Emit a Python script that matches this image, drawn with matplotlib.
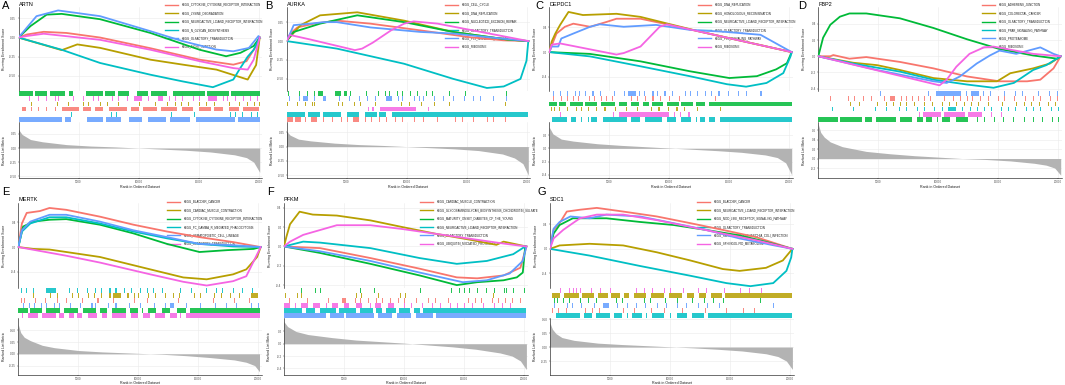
import matplotlib
matplotlib.use("Agg")
import matplotlib.pyplot as plt
from matplotlib.lines import Line2D

plt.rcParams['font.family'] = ['Liberation Sans', 'DejaVu Sans']

# ggplot hue palette, legend order
colors = ['#F8766D', '#B79F00', '#00BA38', '#00BFC4', '#619CFF', '#F564E3']

# ---------------- A ----------------
A_title = 'ARTN'
A_names = ['KEGG_CYTOKINE_CYTOKINE_RECEPTOR_INTERACTION', 'KEGG_LYSINE_DEGRADATION',
           'KEGG_NEUROACTIVE_LIGAND_RECEPTOR_INTERACTION', 'KEGG_N_GLYCAN_BIOSYNTHESIS',
           'KEGG_OLFACTORY_TRANSDUCTION', 'KEGG_TIGHT_JUNCTION']
A_es = [
    [(0, 0), (0.7, 0.04), (2.1, 0.075), (4, 0.06), (6.8, 0), (11, -0.14), (15.1, -0.29), (17.9, -0.355), (19, -0.31), (19.8, -0.11), (20.1, 0)],
    [(0, 0), (3.6, -0.165), (4.9, -0.09), (6.8, -0.135), (11, -0.29), (13.7, -0.355), (16.5, -0.42), (19.1, -0.55), (19.8, -0.36), (20.1, 0)],
    [(0, 0), (1, 0.15), (2.35, 0.3), (3.6, 0.31), (6.8, 0.24), (11, 0.06), (15.1, -0.16), (17.3, -0.245), (18.5, -0.2), (19.6, -0.11), (20.1, 0)],
    [(0, 0), (3.6, -0.16), (6.8, -0.333), (11, -0.487), (13.7, -0.575), (16.2, -0.65), (17.9, -0.55), (18.4, -0.42), (19.1, -0.25), (19.6, -0.16), (20.1, 0)],
    [(0, 0), (1.5, 0.28), (3.3, 0.355), (6.8, 0.28), (11, 0.083), (13.7, -0.048), (16.5, -0.158), (17.9, -0.18), (19.2, -0.136), (20, 0.02), (20.1, 0)],
    [(0, 0), (0.7, 0.02), (2.1, 0.05), (6.8, -0.03), (11, -0.16), (15.1, -0.31), (17.9, -0.4), (19.1, -0.42), (19.6, -0.29), (20.1, 0)],
]
A_rug = [
    (2, [(0, 1.2), (1.4, 2.4), (2.6, 3.9), (4.2, 4.5), (5.6, 7.0), (7.2, 8.0), (8.3, 9.2), (9.9, 10.8), (11, 12.4), (12.9, 15.5), (15.7, 17.5), (17.7, 20.1)]),
    (5, [0.9, 1.6, 2.3, 3.0, 3.3, 4.5, 5.4, 6.2, 6.6, 7.8, 8.3, 9.0, (9.6, 10.3), 10.8, (11.6, 12.0), 12.5, 13.0, 13.6, 14.5, 15.0, (15.8, 16.5), 17.0, 17.4, 18.0, 18.7, 19.3, 19.9]),
    (1, [1.0, 3.2, 4.1, 5.4, 5.8, 6.8, 7.4, 8.3, 10.0, 11.4, 12.4, 13.0, 13.5, 14.1, 15.0, 15.6, 16.3, 17.5, 18.4, 19.0, 19.6, 20.0]),
    (0, [(0.3, 0.6), 1.0, 1.6, 2.3, 3.0, (3.6, 5.0), (5.4, 6.0), (6.4, 7.0), (7.5, 9.0), (9.4, 10.0), (10.4, 11.5), (11.9, 13.2), (13.6, 14.5), (15.0, 16.0), (16.3, 17.0), (17.5, 18.4), (18.7, 20.0)]),
    (3, [4.4, 7.7, 8.1, 12.7, 14.6, 17.6, 18.0, 18.6, 19.4, 19.9]),
    (4, [(0, 3.6), (3.9, 4.4), (5.7, 7.0), (7.3, 8.5), (9.2, 10.3), (10.8, 12.3), (12.6, 14.3), (14.8, 18.0), (18.3, 20.1)]),
]
A_metric = [(0, 0.33), (0.3, 0.24), (1, 0.15), (2, 0.11), (4, 0.06), (6, 0.035), (8, 0.02), (10, 0.0), (12, -0.02), (14, -0.04), (16, -0.07), (18, -0.12), (19, -0.17), (19.6, -0.25), (20.1, -0.43)]
A_es_ticks = [0.25, 0.0, -0.25, -0.5]
A_es_lim = (-0.70, 0.40)
A_rank_ticks = [0.25, 0.0, -0.25, -0.5]
A_rank_lim = (-0.53, 0.46)

# ---------------- B ----------------
B_title = 'AURKA'
B_names = ['KEGG_CELL_CYCLE', 'KEGG_DNA_REPLICATION', 'KEGG_NUCLEOTIDE_EXCISION_REPAIR',
           'KEGG_OLFACTORY_TRANSDUCTION', 'KEGG_P53_SIGNALING_PATHWAY', 'KEGG_RIBOSOME']
B_es = [
    [(0, 0), (0.33, 0.1), (0.9, 0.18), (2.3, 0.23), (4.2, 0.27), (7, 0.23), (11.2, 0.14), (15.3, 0.05), (18.1, 0.01), (20.15, 0)],
    [(0, 0), (1.17, 0.21), (2.8, 0.34), (5.9, 0.38), (9.8, 0.27), (13.9, 0.12), (18.4, 0.02), (20.15, 0)],
    [(0, 0), (0.6, 0.12), (1.4, 0.16), (2.8, 0.23), (4.2, 0.28), (5.9, 0.34), (9.8, 0.25), (13.9, 0.12), (18.4, 0.02), (20.15, 0)],
    [(0, 0), (4.2, -0.1), (9.8, -0.3), (13.9, -0.5), (16.7, -0.62), (18.1, -0.6), (19.5, -0.5), (20, -0.26), (20.15, 0)],
    [(0, 0), (0.3, 0.1), (0.6, 0.21), (2, 0.23), (3.1, 0.25), (4.2, 0.25), (7, 0.18), (11.2, 0.12), (13.9, 0.1), (18.1, 0.03), (20.15, 0)],
    [(0, 0), (0.3, 0.08), (2, 0.02), (5.7, -0.12), (6.3, -0.1), (7.2, -0.02), (8.7, 0.14), (9.8, 0.23), (10.6, 0.26), (12.6, 0.23), (20.15, 0)],
]
B_rug = [
    (2, [0.1, 1.0, 1.7, 2.3, (2.6, 3.0), (4.0, 4.5), (4.8, 5.0), 5.3, 6.6, 7.6, 8.2, 8.5, 9.2, 9.6, 10.3, 10.9, 11.6, 12.1, 13.5, 14.9, 18.3]),
    (4, [0.2, 1.0, (1.4, 1.8), 2.3, (3.0, 3.3), 4.4, 5.2, 6.0, 6.7, 7.4, (8.3, 8.8), 9.3, 9.6, 10.6, 11.0, 11.4, 12.3, 13.0, 13.9, 14.8, 15.5, 16.1, 17.2, 18.3]),
    (1, [0.0, 0.9, 1.5, 2.1, 2.3, 4.3, 4.6, 5.6, 6.1, 7.4, 9.5, 10.2, 11.2, 12.3, 13.5, 18.2]),
    (5, [6.8, (7.1, 7.3), (7.8, 10.8), 11.8]),
    (3, [(0, 1.5), (1.8, 2.8), (3.0, 4.5), (5.0, 6.0), (6.5, 7.5), (7.7, 8.3), (8.8, 20.15)]),
    (0, [(0, 0.5), (0.7, 1.2), 1.5, (2.0, 2.5), 3.0, 3.8, 4.5, 5.0, (5.5, 6.0), 6.5, 7.0, 7.7, 8.3, 9.0, 9.6, 10.6, 11.4, 12.5, 14.0, 14.6, 15.5, 16.7, 17.2, 18.2]),
]
B_metric = [(0, 0.27), (0.3, 0.2), (1, 0.13), (2, 0.1), (4, 0.06), (6, 0.035), (8, 0.02), (10, 0.0), (12, -0.02), (14, -0.04), (16, -0.07), (18, -0.13), (19, -0.2), (19.7, -0.3), (20.15, -0.5)]
B_es_ticks = [0.25, 0.0, -0.25, -0.5]
B_es_lim = (-0.66, 0.45)
B_rank_ticks = [0.25, 0.0, -0.25, -0.5]
B_rank_lim = (-0.55, 0.43)

# ---------------- C ----------------
C_title = 'DEPDC1'
C_names = ['KEGG_DNA_REPLICATION', 'KEGG_HOMOLOGOUS_RECOMBINATION',
           'KEGG_NEUROACTIVE_LIGAND_RECEPTOR_INTERACTION', 'KEGG_OLFACTORY_TRANSDUCTION',
           'KEGG_P53_SIGNALING_PATHWAY', 'KEGG_RIBOSOME']
C_es = [
    [(0, 0), (0.33, 0.17), (0.6, 0.3), (1.3, 0.41), (2, 0.46), (3.4, 0.41), (4.8, 0.49), (5.6, 0.54), (7.6, 0.54), (9.8, 0.45), (20.2, 0)],
    [(0, 0), (0.2, 0.17), (0.5, 0.3), (0.9, 0.44), (1.6, 0.65), (2.8, 0.6), (5.6, 0.62), (7.6, 0.57), (10.3, 0.44), (12.6, 0.33), (20.2, 0)],
    [(0, 0), (3.4, -0.03), (7.6, -0.15), (11.7, -0.31), (15, -0.42), (17.3, -0.39), (18.9, -0.28), (19.8, -0.18), (20.2, 0)],
    [(0, 0), (3.4, -0.07), (7.6, -0.23), (11.7, -0.39), (14.8, -0.52), (16.4, -0.56), (18.1, -0.5), (19.5, -0.34), (20.1, -0.07), (20.2, 0)],
    [(0, 0), (0.2, 0.09), (0.75, 0.09), (1, 0.22), (2, 0.3), (3.4, 0.41), (4.2, 0.45), (6.2, 0.41), (8.9, 0.44), (11.7, 0.36), (14.5, 0.33), (17.6, 0.28), (20.2, 0)],
    [(0, 0), (0.2, 0.12), (0.9, 0.14), (5.6, -0.04), (6.2, -0.016), (7.6, 0.09), (8.4, 0.25), (9.2, 0.41), (9.8, 0.45), (20.2, 0)],
]
C_rug = [
    (4, [0.3, 0.9, 1.5, 2.1, 2.5, 3.0, 3.6, 4.2, 5.4, 6.2, (6.6, 7.2), 7.5, 7.9, 8.6, 9.0, 9.6, 10.2, 11.3, 11.7, 12.3, 13.0, 13.5, 14.1, 14.9, 15.7, 16.4, 17.6]),
    (0, [0.3, 1.0, 1.5, 2.0, 2.4, 3.3, 3.7, 4.3, 4.7, 5.2, 6.8, 7.3, 8.0, 8.6, 9.2, 10.0, 10.8, 13.8]),
    (2, [(0, 0.6), (0.8, 1.4), (1.7, 2.8), (3.0, 4.0), (4.3, 5.5), (5.8, 6.5), (6.8, 7.5), (7.8, 8.3), (8.6, 9.5), (9.8, 10.8), (11.0, 12.0), (12.2, 13.0), (13.3, 20.2)]),
    (1, [0.1, 0.4, 0.8, 1.5, 2.2, 2.6, 3.2, 3.9, 4.6, 5.5, 6.4, 7.3, 8.5, 9.1, 9.9, 10.6, 11.2, 12.3, 14.2]),
    (5, [0.9, 5.3, (5.8, 10.0), 10.4, 10.9, 11.6]),
    (3, [(0.2, 1.5), (1.8, 2.2), 2.6, 3.2, (3.5, 4.0), (4.5, 6.5), (6.8, 7.6), (8.0, 9.4), (9.8, 10.6), (11.0, 11.8), 12.2, (12.6, 13.0), (13.3, 13.8), (14.2, 20.2)]),
]
C_metric = [(0, 0.32), (0.3, 0.22), (1, 0.14), (2, 0.11), (4, 0.07), (6, 0.045), (8, 0.025), (10, 0.005), (12, -0.015), (14, -0.035), (16, -0.06), (18, -0.1), (19, -0.14), (19.7, -0.22), (20.2, -0.4)]
C_es_ticks = [0.4, 0.0, -0.4]
C_es_lim = (-0.63, 0.73)
C_rank_ticks = [0.2, 0.0, -0.2, -0.4]
C_rank_lim = (-0.45, 0.40)

# ---------------- D ----------------
D_title = 'FBP2'
D_names = ['KEGG_ADHERENS_JUNCTION', 'KEGG_COLORECTAL_CANCER', 'KEGG_OLFACTORY_TRANSDUCTION',
           'KEGG_PPAR_SIGNALING_PATHWAY', 'KEGG_PROTEASOME', 'KEGG_RIBOSOME']
D_es = [
    [(0, 0), (1, 0.0), (1.25, 0.015), (2.6, -0.03), (4, -0.01), (6.8, -0.07), (9.6, -0.15), (12.4, -0.25), (15.1, -0.31), (17.4, -0.31), (18.5, -0.29), (19.6, -0.15), (20.2, 0)],
    [(0, 0), (2.9, -0.08), (4.9, -0.11), (6.8, -0.17), (9.6, -0.27), (12.4, -0.31), (14.9, -0.31), (16, -0.21), (17.9, -0.15), (19.3, -0.09), (20.2, 0)],
    [(0, 0), (0.4, 0.23), (1, 0.39), (1.8, 0.49), (2.6, 0.53), (4, 0.53), (6.8, 0.47), (9.6, 0.35), (12.4, 0.21), (15.1, 0.09), (17.9, 0.01), (19.9, -0.03), (20.2, 0)],
    [(0, 0), (2.9, -0.09), (6.8, -0.19), (9.6, -0.29), (12.4, -0.35), (14.6, -0.39), (16.3, -0.33), (17.9, -0.17), (19, -0.11), (20.2, 0)],
    [(0, 0), (4.9, -0.17), (9.6, -0.31), (10.7, -0.33), (11.8, -0.25), (13.2, -0.09), (14.3, 0.01), (15.1, 0.07), (16.5, 0.03), (18.5, 0.11), (19.6, 0.03), (20.2, 0)],
    [(0, 0), (10.1, -0.36), (10.7, -0.29), (11.5, -0.13), (12.6, 0.03), (13.8, 0.11), (14.6, 0.12), (17.9, 0.03), (20.2, 0)],
]
D_rug = [
    (4, [5.1, 9.1, (9.8, 11.9), 12.3, (12.7, 13.4), 13.7, 14.3, 15.5, 16.4, 17.0, 18.3, 19.2, 19.9]),
    (0, [1.0, 2.5, 3.0, 3.7, 4.4, 5.5, (6.0, 6.4), 6.9, 7.3, 7.8, 8.3, 8.8, 9.3, 10.5, 11.2, 11.8, 12.4, 12.8, 13.5, 14.1, 15.0, 15.5, 16.3, 17.2, 17.9, 18.5, 19.3, 19.9]),
    (1, [2.6, 3.4, 4.9, 5.6, 6.2, 6.8, 7.3, 8.0, 8.8, 9.5, 10.3, 10.9, 11.5, 12.1, 12.7, 13.3, 14.1, 15.3, 16.5, 17.1, 17.7, 18.4, 19.1, 19.7]),
    (3, [1.1, 2.9, 4.7, 5.6, 6.7, 7.3, 8.2, 8.8, 9.6, 10.3, (10.8, 11.5), 12.0, 12.6, 13.2, 13.8, 14.4, 15.2, 15.8, 16.4, 17.3, 17.9, 18.5, 19.4, 20.0]),
    (5, [8.4, (8.7, 10.2), (10.5, 12.2), (12.5, 13.6), 14.4, 15.2]),
    (2, [(0, 1.6), (1.8, 3.6), (3.9, 4.5), (4.8, 6.5), (6.8, 7.8), (8.2, 8.7), (9.0, 9.5), 9.9, (10.3, 11.0), (11.5, 12.5), 13.2, 13.8, 14.6, 15.4, 16.2, 17.1, 17.9, 18.6, 19.5, 20.0]),
]
D_metric = [(0, 0.72), (0.2, 0.55), (0.5, 0.45), (1, 0.35), (2, 0.25), (3, 0.2), (4, 0.15), (6, 0.1), (8, 0.06), (10, 0.03), (12, 0.0), (14, -0.02), (16, -0.05), (18, -0.1), (19, -0.14), (19.7, -0.2), (20.2, -0.35)]
D_es_ticks = [0.4, 0.2, 0.0, -0.2, -0.4]
D_es_lim = (-0.43, 0.61)
D_rank_ticks = [0.6, 0.4, 0.2, 0.0, -0.2]
D_rank_lim = (-0.41, 0.77)

# ---------------- E ----------------
E_title = 'MERTK'
E_names = ['KEGG_BLADDER_CANCER', 'KEGG_CARDIAC_MUSCLE_CONTRACTION',
           'KEGG_CYTOKINE_CYTOKINE_RECEPTOR_INTERACTION', 'KEGG_FC_GAMMA_R_MEDIATED_PHAGOCYTOSIS',
           'KEGG_HEMATOPOIETIC_CELL_LINEAGE', 'KEGG_OLFACTORY_TRANSDUCTION']
E_es = [
    [(0, 0), (0.3, 0.38), (0.7, 0.55), (1.8, 0.58), (2.6, 0.63), (4, 0.6), (6.8, 0.49), (9.6, 0.36), (12.4, 0.25), (15.1, 0.16), (17.9, 0.08), (20.2, 0)],
    [(0, 0), (1.25, -0.03), (2.6, -0.04), (6.8, -0.16), (11, -0.36), (13.75, -0.49), (15.7, -0.52), (17.9, -0.44), (19, -0.36), (19.9, -0.16), (20.2, 0)],
    [(0, 0), (0.4, 0.33), (1.25, 0.41), (2.6, 0.44), (4, 0.45), (6.8, 0.36), (9.6, 0.22), (12.4, 0.05), (15.1, -0.08), (17.4, -0.05), (18.5, -0.04), (19.6, -0.03), (20.2, 0)],
    [(0, 0), (0.3, 0.25), (1, 0.38), (2.6, 0.48), (4, 0.48), (6.8, 0.38), (9.6, 0.25), (12.4, 0.14), (15.1, 0.05), (17.9, 0.01), (20.2, 0)],
    [(0, 0), (0.3, 0.27), (1, 0.41), (2.6, 0.52), (4, 0.52), (6.8, 0.41), (9.6, 0.27), (12.4, 0.16), (15.1, 0.05), (17.9, 0.03), (20.2, 0)],
    [(0, 0), (4, -0.14), (6.8, -0.25), (11, -0.44), (13.75, -0.56), (15.7, -0.62), (17.9, -0.55), (19, -0.47), (20.2, 0)],
]
E_rug = [
    (3, [0.2, 0.6, 1.2, (2.3, 3.1), 4.2, 4.9, 5.7, 6.4, 6.9, 7.6, 8.1, 8.8, 9.4, 10.1, 10.7, 11.2, 12.0, 13.5, 14.4, 15.6, 16.5, 17.0, 17.9, 18.6, 19.5]),
    (1, [1.2, 2.6, 3.2, 4.5, 5.0, 5.8, 6.3, 6.9, 7.6, (7.9, 8.6), 9.1, 9.6, 10.0, 10.8, 11.4, 12.2, 12.9, 13.4, 14.6, 15.1, 16.3, 16.9, 17.6, 18.4, (19.4, 20.0)]),
    (0, [0.2, 0.5, 1.4, 2.2, 3.2, 4.0, 5.3, 6.6, 7.9, 9.6, 10.7, 13.3, 16.2, 18.0, 19.2]),
    (4, [0.4, 0.9, 1.3, 1.9, 2.3, 3.0, 3.4, 4.3, 5.1, 6.1, 6.4, 7.5, 8.1, 9.2, 10.1, 11.3, 12.2, (12.6, 13.0), 14.0, 15.1, 16.4, 17.3, 18.1, 19.4, 20.0]),
    (2, [(0, 0.8), (1.0, 2.0), (2.3, 3.5), (3.8, 5.0), (5.4, 6.5), (6.8, 7.4), (7.8, 9.0), (9.3, 10.0), 10.3, (10.8, 11.5), (12.0, 12.6), (13.2, 14.0), (14.3, 20.1)]),
    (5, [0.3, (0.8, 1.6), (2.0, 3.1), (3.4, 3.8), (4.2, 4.6), (4.9, 5.3), (5.8, 6.6), (7.0, 7.4), (7.8, 9.0), (9.4, 10.0), (10.4, 11.0), (11.4, 12.2), (12.6, 13.2), 13.5, (14.0, 20.1)]),
]
E_metric = [(0, 0.62), (0.2, 0.45), (0.5, 0.35), (1, 0.28), (2, 0.18), (3, 0.13), (5, 0.07), (7, 0.04), (10, 0.01), (12, -0.01), (14, -0.04), (16, -0.08), (18, -0.13), (19, -0.18), (19.7, -0.25), (20.1, -0.38)]
E_es_ticks = [0.4, 0.0, -0.4]
E_es_lim = (-0.66, 0.71)
E_rank_ticks = [0.5, 0.25, 0.0, -0.25]
E_rank_lim = (-0.45, 0.76)

# ---------------- F ----------------
F_title = 'PFKM'
F_names = ['KEGG_CARDIAC_MUSCLE_CONTRACTION', 'KEGG_GLYCOSAMINOGLYCAN_BIOSYNTHESIS_CHONDROITIN_SULFATE',
           'KEGG_MATURITY_ONSET_DIABETES_OF_THE_YOUNG', 'KEGG_NEUROACTIVE_LIGAND_RECEPTOR_INTERACTION',
           'KEGG_OLFACTORY_TRANSDUCTION', 'KEGG_UBIQUITIN_MEDIATED_PROTEOLYSIS']
F_es = [
    [(0, 0), (3, -0.017), (7.2, -0.12), (11.3, -0.23), (14.4, -0.32), (16.1, -0.33), (18.3, -0.3), (19.7, -0.22), (20.2, 0)],
    [(0, 0), (0.2, 0.1), (0.5, 0.23), (1.3, 0.36), (2.4, 0.33), (4.4, 0.32), (7.2, 0.27), (9.9, 0.2), (12.7, 0.13), (15.5, 0.07), (17.7, 0.017), (18.3, 0.05), (20.2, 0)],
    [(0, 0), (3, -0.067), (7.2, -0.18), (11.3, -0.3), (14.4, -0.4), (16.1, -0.37), (18.3, -0.35), (19.4, -0.32), (19.9, -0.27), (20.1, 0)],
    [(0, 0), (1.6, 0.05), (3, 0.04), (7.2, -0.017), (11.3, -0.12), (14.4, -0.18), (16.9, -0.15), (19.1, -0.08), (20.1, 0)],
    [(0, 0), (3, -0.05), (7.2, -0.15), (11.3, -0.27), (14.9, -0.37), (16.9, -0.35), (18.8, -0.28), (19.9, -0.15), (20.2, 0)],
    [(0, 0), (0.5, 0.05), (1.6, 0.12), (3, 0.17), (4.4, 0.22), (7.2, 0.22), (9.9, 0.18), (12.7, 0.13), (15.5, 0.08), (18.3, 0.03), (20.2, 0)],
]
F_rug = [
    (2, [1.4, 2.6, 3.0, 6.3, 7.5, 11.3, 13.9, 14.6, 15.0, 15.4, 16.1, 16.8, 17.5, 18.3, 18.5, 19.1, 20.0]),
    (1, [0.1, 1.1, 1.4, 6.0, 6.4, 7.8, 9.7, 10.1, 17.4]),
    (0, [0.4, 1.9, 3.7, (4.8, 5.2), 5.9, 6.3, 7.0, 7.7, 8.2, 8.8, 9.5, 10.0, 11.0, 12.0, 12.6, 13.7, 15.3, 15.9, 16.4, 17.3, 17.8, 18.4, 19.0, 19.7]),
    (5, [(0, 0.5), 0.9, (1.4, 2.0), (2.4, 3.0), 3.5, (4.0, 4.5), (5.0, 5.4), (6.0, 6.5), 7.2, (7.6, 8.1), (8.7, 9.2), 10.0, 10.6, 11.5, 12.3, 13.0, 13.8, 14.4, 15.0, 15.7, 16.6, 17.5, 18.2, 18.8]),
    (3, [(0, 1.5), (1.8, 2.6), (3.0, 4.3), (4.6, 6.0), (6.3, 7.4), (7.7, 8.2), (8.5, 9.3), (9.6, 10.5), (10.8, 11.3), (11.6, 20.2)]),
    (4, [(0, 3.5), (3.8, 5.0), (5.2, 7.5), (7.8, 9.0), (9.4, 10.6), (11.0, 12.4), (12.7, 20.2)]),
]
F_metric = [(0, 0.36), (0.3, 0.28), (1, 0.2), (2, 0.15), (4, 0.1), (6, 0.06), (8, 0.035), (10, 0.01), (12, -0.02), (14, -0.05), (16, -0.09), (18, -0.15), (19, -0.2), (19.7, -0.28), (20.2, -0.42)]
F_es_ticks = [0.4, 0.2, 0.0, -0.2, -0.4]
F_es_lim = (-0.43, 0.45)
F_rank_ticks = [0.2, 0.0, -0.2, -0.4]
F_rank_lim = (-0.51, 0.42)

# ---------------- G ----------------
G_title = 'SDC1'
G_names = ['KEGG_BLADDER_CANCER', 'KEGG_NEUROACTIVE_LIGAND_RECEPTOR_INTERACTION',
           'KEGG_NOD_LIKE_RECEPTOR_SIGNALING_PATHWAY', 'KEGG_OLFACTORY_TRANSDUCTION',
           'KEGG_PATHOGENIC_ESCHERICHIA_COLI_INFECTION', 'KEGG_SPHINGOLIPID_METABOLISM']
G_es = [
    [(0, 0), (0.3, 0.31), (0.8, 0.42), (1.4, 0.61), (2.5, 0.64), (3.9, 0.67), (6.1, 0.61), (8.9, 0.53), (11.7, 0.42), (14.4, 0.31), (17.2, 0.19), (20.2, 0)],
    [(0, 0), (0.8, 0.056), (3.3, 0.083), (6.1, 0.056), (8.9, -0.056), (11.7, -0.19), (14.4, -0.33), (15.8, -0.36), (18, -0.31), (19.4, -0.19), (20.2, 0)],
    [(0, 0), (0.3, 0.25), (0.8, 0.39), (1.9, 0.5), (4.7, 0.5), (6.1, 0.47), (7.5, 0.44), (10.3, 0.39), (13, 0.31), (15.8, 0.22), (17.5, 0.14), (20.2, 0)],
    [(0, 0), (3.3, -0.11), (7.5, -0.28), (11.7, -0.44), (14.7, -0.56), (16.7, -0.61), (18.6, -0.56), (19.7, -0.36), (20.1, -0.14), (20.2, 0)],
    [(0, 0), (0.3, 0.33), (0.8, 0.44), (1.7, 0.53), (3.3, 0.5), (4.7, 0.56), (7.5, 0.53), (10.3, 0.42), (13, 0.31), (15.8, 0.17), (18.6, 0.06), (20.2, 0)],
    [(0, 0), (0.3, 0.17), (1.1, 0.31), (1.9, 0.42), (2.5, 0.5), (3.9, 0.56), (6.1, 0.56), (8.9, 0.47), (11.7, 0.36), (14.4, 0.25), (17.2, 0.14), (20.2, 0)],
]
G_rug = [
    (5, [0.8, 1.6, 1.9, 2.2, 2.5, 3.4, 4.2, 5.0, 7.2, 7.8, 8.5, 9.5, 10.0, 11.1, 12.3, 13.0, 14.5, 15.8, 16.6, 17.6]),
    (1, [(0.2, 0.8), (1.2, 2.4), (2.7, 3.7), (4.0, 4.8), (5.1, 5.8), (6.2, 6.6), (7.0, 8.0), (8.4, 9.5), (9.9, 11.0), (11.4, 12.0), (12.4, 13.0), (13.4, 14.3), (14.6, 20.2)]),
    (2, [0.3, 0.6, 1.1, 1.6, 2.5, 3.2, 3.8, 5.5, 6.0, 7.8, 8.3, 9.6, 10.6, 11.8, 12.8, 13.6, 14.4, 17.5]),
    (4, [0.3, 1.4, 1.8, 2.6, 3.7, (4.4, 4.9), 5.6, 6.4, 7.2, 7.9, 8.9, 9.7, 10.6, 11.3, 12.3, 13.1, 14.1, 18.6]),
    (0, [0.2, 0.7, 1.3, 2.9, 3.5, 4.1, 6.1, 7.0, 8.4, 9.5, 11.0, 12.9, 14.7, 16.1, 17.0]),
    (3, [(0.5, 2.5), (2.8, 3.5), (3.8, 5.0), (5.3, 6.0), 6.4, (6.8, 7.7), 8.0, (8.5, 9.5), 10.0, (10.6, 11.4), (11.8, 12.8), (13.2, 20.2)]),
]
G_metric = [(0, 0.43), (0.2, 0.32), (0.5, 0.24), (1, 0.17), (2, 0.12), (4, 0.07), (6, 0.045), (8, 0.025), (10, 0.005), (12, -0.015), (14, -0.04), (16, -0.07), (18, -0.12), (19, -0.17), (19.7, -0.25), (20.2, -0.4)]
G_es_ticks = [0.4, 0.0, -0.4]
G_es_lim = (-0.64, 0.75)
G_rank_ticks = [0.5, 0.25, 0.0, -0.25]
G_rank_lim = (-0.50, 0.52)

x_ticks = [5, 10, 15, 20]
x_ticklabels = ['5000', '10000', '15000', '20000']

W, H = 1065, 385
fig = plt.figure(figsize=(W / 100, H / 100), dpi=100)
fig.patch.set_facecolor('white')


def ax_px(left, top, width, height):
    return fig.add_axes([left / W, 1 - (top + height) / H, width / W, height / H])


def fmt(v, ticks):
    dec = max(len(('%g' % t).split('.')[-1]) if '.' in '%g' % t else 0 for t in ticks)
    dec = max(dec, 1)
    return ('%.' + str(dec) + 'f') % v


rows = [
    dict(letter=6, title=4, es=(7, 91), rug=(91, 122), rank=(122, 178), legend=4.7, xlabel=186.5),
    dict(letter=192, title=200, es=(203, 288), rug=(288, 318), rank=(318, 375), legend=201.7, xlabel=383.2),
]

panels = [
    ('A', 0, 2, 18.5, 165, A_title, A_names, A_es, A_rug, A_metric, A_es_ticks, A_es_lim, A_rank_ticks, A_rank_lim),
    ('B', 0, 265, 286.5, 445, B_title, B_names, B_es, B_rug, B_metric, B_es_ticks, B_es_lim, B_rank_ticks, B_rank_lim),
    ('C', 0, 535, 549.3, 698, C_title, C_names, C_es, C_rug, C_metric, C_es_ticks, C_es_lim, C_rank_ticks, C_rank_lim),
    ('D', 0, 798, 818.3, 982, D_title, D_names, D_es, D_rug, D_metric, D_es_ticks, D_es_lim, D_rank_ticks, D_rank_lim),
    ('E', 1, 2, 18.3, 167, E_title, E_names, E_es, E_rug, E_metric, E_es_ticks, E_es_lim, E_rank_ticks, E_rank_lim),
    ('F', 1, 267, 284, 420, F_title, F_names, F_es, F_rug, F_metric, F_es_ticks, F_es_lim, F_rank_ticks, F_rank_lim),
    ('G', 1, 537, 550, 697, G_title, G_names, G_es, G_rug, G_metric, G_es_ticks, G_es_lim, G_rank_ticks, G_rank_lim),
]

XMAX = 20.3
PXK = 12.0  # pixels per 1000 ranks
grid_c = '#EBEBEB'

for (letter, r, lx, x0, legx, title, names, es, rug, metric,
     es_ticks, es_lim, rank_ticks, rank_lim) in panels:
    row = rows[r]
    width = XMAX * PXK

    # running enrichment score
    ax1 = ax_px(x0, row['es'][0], width, row['es'][1] - row['es'][0])
    for i, pts in enumerate(es):
        ax1.plot([p[0] for p in pts], [p[1] for p in pts], color=colors[i], lw=1.3, zorder=3 + i)
    ax1.set_xlim(0, XMAX)
    ax1.set_ylim(*es_lim)
    ax1.set_xticks(x_ticks)
    ax1.set_xticklabels([])
    ax1.tick_params(axis='x', length=0)
    ax1.set_yticks(es_ticks)
    ax1.set_yticklabels([fmt(t, es_ticks) for t in es_ticks], fontsize=2.2, color='#4D4D4D')
    ax1.tick_params(axis='y', length=1, width=0.3, pad=0.8, color='#333333')
    ax1.grid(True, color=grid_c, lw=0.4)
    ax1.set_axisbelow(True)
    for s in ['top', 'right', 'bottom']:
        ax1.spines[s].set_visible(False)
    ax1.spines['left'].set_linewidth(0.4)

    # legend (drawn below the curves)
    for i, name in enumerate(names):
        yy = row['legend'] + i * 8.4
        ax1.add_line(Line2D([legx / W, (legx + 13) / W], [1 - yy / H, 1 - yy / H], color=colors[i],
                            lw=1.0, transform=fig.transFigure, clip_on=False, zorder=1))
        ax1.text((legx + 17) / W, 1 - yy / H, name, fontsize=2.1, color='#1A1A1A', va='center', ha='left',
                 transform=fig.transFigure, zorder=1)

    # gene hit rug
    ax2 = ax_px(x0, row['rug'][0], width, row['rug'][1] - row['rug'][0])
    for j, (ci, hits) in enumerate(rug):
        segs = []
        for h in hits:
            if isinstance(h, tuple):
                segs.append((h[0], max(h[1] - h[0], 0.09)))
            else:
                segs.append((h, 0.09))
        ax2.broken_barh(segs, (j + 0.05, 0.9), facecolors=colors[ci], edgecolor='none', alpha=0.85)
    ax2.set_xlim(0, XMAX)
    ax2.set_ylim(6, 0)
    ax2.axis('off')

    # ranked list metric
    ax3 = ax_px(x0, row['rank'][0], width, row['rank'][1] - row['rank'][0])
    ax3.fill_between([p[0] for p in metric], 0, [p[1] for p in metric], color='#B3B3B3', lw=0)
    ax3.set_xlim(0, XMAX)
    ax3.set_ylim(*rank_lim)
    ax3.set_xticks(x_ticks)
    ax3.set_xticklabels(x_ticklabels, fontsize=2.1, color='#4D4D4D')
    ax3.set_yticks(rank_ticks)
    ax3.set_yticklabels([fmt(t, rank_ticks) for t in rank_ticks], fontsize=2.2, color='#4D4D4D')
    ax3.tick_params(length=1, width=0.3, pad=0.6, color='#333333')
    ax3.grid(True, color=grid_c, lw=0.4)
    ax3.set_axisbelow(True)
    for s in ['top', 'right']:
        ax3.spines[s].set_visible(False)
    for s in ['left', 'bottom']:
        ax3.spines[s].set_linewidth(0.4)

    # labels
    ylab_x = (x0 - 14.5) / W
    es_mid = (row['es'][0] + row['es'][1]) / 2
    rk_mid = (row['rank'][0] + row['rank'][1]) / 2
    fig.text(ylab_x, 1 - es_mid / H, 'Running Enrichment Score', rotation=90, fontsize=2.5,
             ha='center', va='center', color='#1A1A1A')
    fig.text(ylab_x, 1 - rk_mid / H, 'Ranked List Metric', rotation=90, fontsize=2.5,
             ha='center', va='center', color='#1A1A1A')
    fig.text((x0 + width / 2) / W, 1 - row['xlabel'] / H, 'Rank in Ordered Dataset', fontsize=2.6,
             ha='center', va='center', color='#1A1A1A')
    fig.text(x0 / W, 1 - row['title'] / H, title, fontsize=4, ha='left', va='center')
    fig.text(lx / W, 1 - row['letter'] / H, letter, fontsize=8, ha='left', va='center')

fig.savefig('out.png', dpi=100)
